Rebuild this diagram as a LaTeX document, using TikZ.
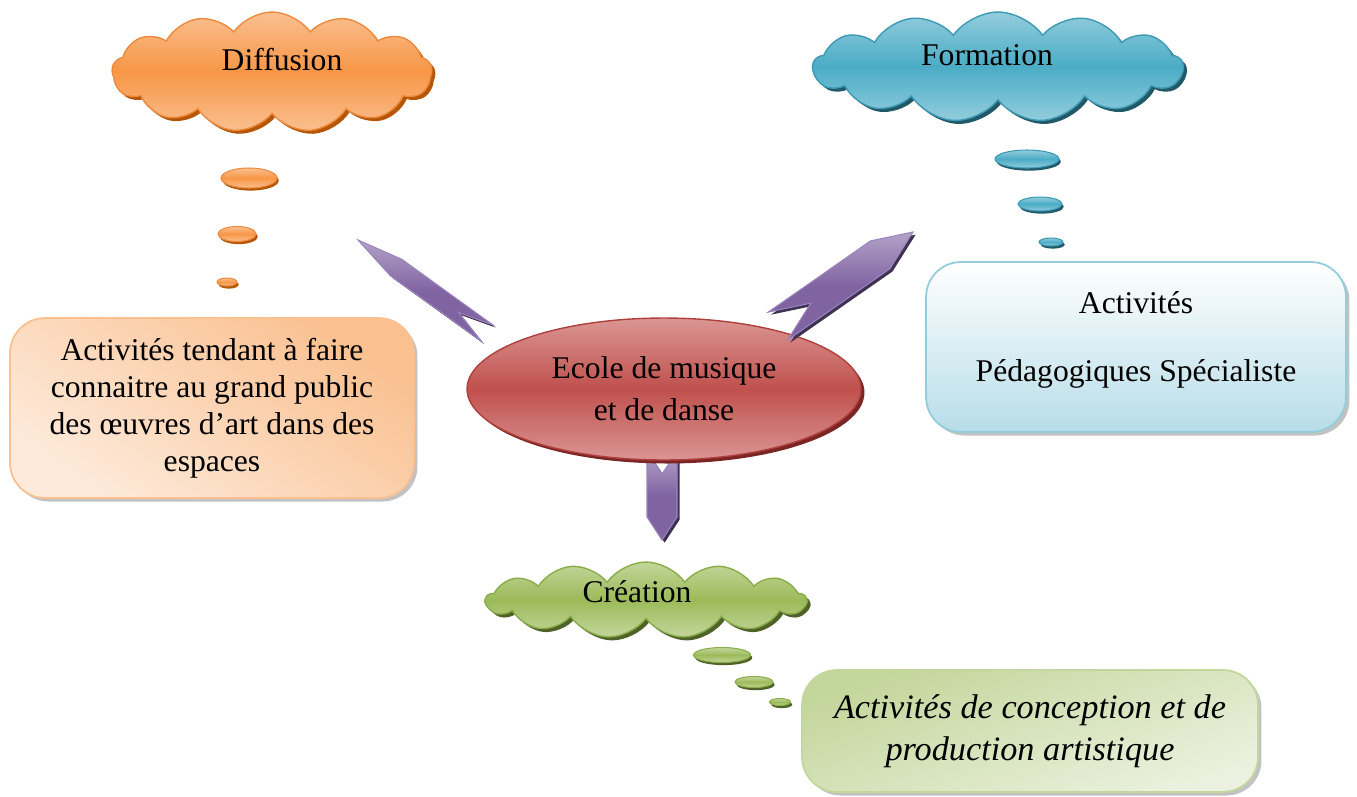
\documentclass[tikz,border=0pt]{standalone}
\usepackage{fontspec}
\setmainfont{Liberation Serif}
\usetikzlibrary{calc,shapes.geometric,shapes.symbols,shadows}

\definecolor{orLight}{HTML}{FAC090}
\definecolor{orMain}{HTML}{F79646}
\definecolor{orLine}{HTML}{EC8A3E}
\definecolor{orDark}{HTML}{B65708}
\definecolor{orPale}{HTML}{FDEADA}
\definecolor{blLight}{HTML}{92CDDC}
\definecolor{blMain}{HTML}{4BACC6}
\definecolor{blLine}{HTML}{3E9AB4}
\definecolor{blDark}{HTML}{215968}
\definecolor{blPale}{HTML}{B7DDE8}
\definecolor{grLight}{HTML}{C3D69B}
\definecolor{grMain}{HTML}{9BBB59}
\definecolor{grLine}{HTML}{8AAD4A}
\definecolor{grDark}{HTML}{4F6228}
\definecolor{grPale}{HTML}{EBF1DE}
\definecolor{reLight}{HTML}{DA9694}
\definecolor{reMain}{HTML}{C0504D}
\definecolor{reLine}{HTML}{B0403D}
\definecolor{reDark}{HTML}{7B2624}
\definecolor{viLight}{HTML}{B3A2C7}
\definecolor{viMain}{HTML}{8064A2}
\definecolor{viLine}{HTML}{9A84BE}
\definecolor{viDark}{HTML}{3F3151}

% notched arrow: (tail)(tip)(half width:head length:notch depth)
\def\notcharrow[#1](#2)(#3)(#4:#5:#6){%
  \coordinate (nb) at ($(#3)!#5!(#2)$);
  \draw[#1] ($(#2)!#4!90:(#3)$) -- ($(#2)!#6!(#3)$) -- ($(#2)!#4!-90:(#3)$)
    -- ($(nb)!#4!-90:(#3)$) -- (#3) -- ($(nb)!#4!90:(#3)$) -- cycle;}

\tikzset{
  thought/.style={cloud, cloud puffs=13, cloud puff arc=110, cloud ignores aspect,
    inner sep=0pt, draw=#1Line, line width=0.8pt,
    top color=#1Light, bottom color=#1Light, middle color=#1Main,
    drop shadow={shadow xshift=2pt, shadow yshift=-2pt, fill=#1Dark, opacity=1}},
  bubble/.style={ellipse, inner sep=0pt, draw=#1Line, line width=0.6pt,
    top color=#1Light, bottom color=#1Light, middle color=#1Main,
    drop shadow={shadow xshift=1pt, shadow yshift=-1.5pt, fill=#1Dark, opacity=1}},
  notebox/.style={rectangle, rounded corners=0.7cm, align=center, line width=1pt,
    drop shadow={shadow xshift=2pt, shadow yshift=-2pt, fill=black!40, opacity=0.6}},
  linkarrow/.style={draw=viLine, line width=0.6pt, top color=viLight, bottom color=viMain,
    middle color=viMain,
    drop shadow={shadow xshift=1.5pt, shadow yshift=-1.5pt, fill=viDark, opacity=1}},
  school/.style={ellipse, draw=reLine, line width=0.8pt, align=center,
    top color=reLight, bottom color=reLight, middle color=reMain,
    minimum width=7.88cm, minimum height=2.84cm,
    drop shadow={shadow xshift=2pt, shadow yshift=-2pt, fill=reDark, opacity=1}}
}

\begin{document}
\begin{tikzpicture}[x=0.02cm, y=-0.02cm, every node/.style={font=\fontsize{18}{21}\selectfont}]
		\useasboundingbox (0,0) rectangle (1357,796);

		%%%%% CLOUDS %%%%%
		\node[thought=or, minimum width=6.4cm, minimum height=2.4cm,
			label={[xshift=0.2cm, yshift=0.24cm]center:Diffusion}] (diffusion) at (272,72) {};
		\node[thought=bl, minimum width=7.4cm, minimum height=2.2cm,
			label={[xshift=-0.22cm, yshift=0.24cm]center:Formation}] (formation) at (998,67) {};
		\node[thought=gr, minimum width=6.4cm, minimum height=1.52cm,
			label={[xshift=-0.18cm, yshift=0.16cm]center:Création}] (creation) at (646,600) {};

		\node[bubble=or, minimum width=1.12cm, minimum height=0.4cm] (db1) at (249,178) {};
		\node[bubble=or, minimum width=0.76cm, minimum height=0.3cm] (db2) at (237,234) {};
		\node[bubble=or, minimum width=0.4cm, minimum height=0.16cm] (db3) at (227,282) {};

		\node[bubble=bl, minimum width=1.28cm, minimum height=0.36cm] (fb1) at (1027,159) {};
		\node[bubble=bl, minimum width=0.88cm, minimum height=0.28cm] (fb2) at (1040,204) {};
		\node[bubble=bl, minimum width=0.48cm, minimum height=0.16cm] (fb3) at (1051,242) {};

		\node[bubble=gr, minimum width=1.14cm, minimum height=0.3cm] (cb1) at (722,655) {};
		\node[bubble=gr, minimum width=0.76cm, minimum height=0.22cm] (cb2) at (754,682) {};
		\node[bubble=gr, minimum width=0.42cm, minimum height=0.14cm] (cb3) at (780,702) {};

		%%%%% BOXES %%%%%
		\node[notebox, draw=orLight, minimum width=8.08cm, minimum height=3.6cm,
			top color=orLight, bottom color=orPale, shading angle=-35] (diffbox) at (212,408)
			{Activités tendant à faire\\connaitre au grand public\\des œuvres d’art dans des\\espaces};
		\node[notebox, draw=blLight, minimum width=8.4cm, minimum height=3.4cm,
			top color=white, bottom color=blPale] (formbox) at (1136,347)
			{Activités\\[18pt]Pédagogiques Spécialiste\\[-9pt]\mbox{}};
		\node[notebox, draw=grLight, minimum width=9.12cm, minimum height=2.44cm,
			top color=grLight, bottom color=grPale, shading angle=20,
			font=\fontsize{19.5}{23}\selectfont\itshape] (creabox) at (1030,731)
			{Activités de conception et de\\[1pt]production artistique};

		%%%%% CENTRE %%%%%
		\coordinate (ctail) at (662,452);
		\coordinate (ctip) at (662,540);
		\notcharrow[linkarrow](ctail)(ctip)(0.3cm:0.46cm:0.44cm)

		\node[school] (school) at (664,389) {Ecole de musique\\[3pt]et de danse};

		\coordinate (dtail) at (487,333);
		\coordinate (dtip) at (358,240);
		\notcharrow[linkarrow](dtail)(dtip)(0.2cm:0.94cm:0.7cm)

		\coordinate (ftail) at (778,326);
		\coordinate (ftip) at (913,232);
		\notcharrow[linkarrow](ftail)(ftip)(0.34cm:0.8cm:0.8cm)

		%%%%% END %%%%%
	\end{tikzpicture}
\end{document}
